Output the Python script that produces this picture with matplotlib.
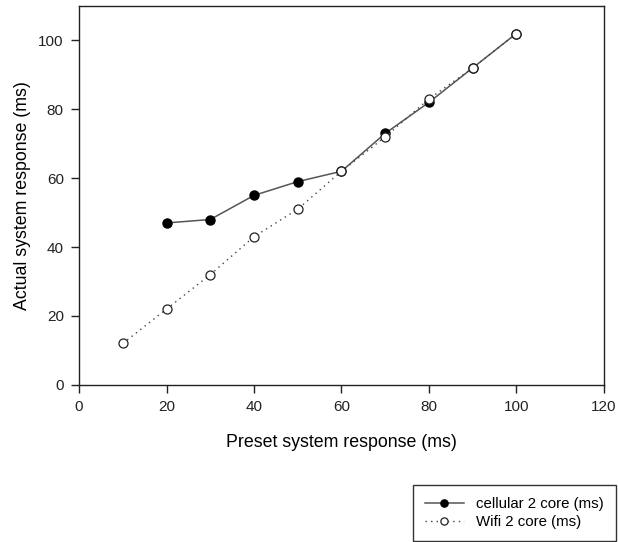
import matplotlib

matplotlib.use("Agg")
import matplotlib.pyplot as plt  # noqa: E402

plt.rcParams["font.family"] = ["Liberation Sans", "DejaVu Sans"]

# data
cell_x = [20, 30, 40, 50, 60, 70, 80, 90, 100]
cell_y = [47, 48, 55, 59, 62, 73, 82, 92, 102]
wifi_x = [10, 20, 30, 40, 50, 60, 70, 80, 90, 100]
wifi_y = [12, 22, 32, 43, 51, 62, 72, 83, 92, 102]

fig = plt.figure(figsize=(6.18, 5.42), dpi=100)
ax = fig.add_axes([0.128, 0.29, 0.849, 0.699])

ax.plot(cell_x, cell_y, color="#555555", lw=1.1, ls="-", marker="o",
        ms=6.5, mfc="black", mec="black", label="cellular 2 core (ms)", zorder=2)
ax.plot(wifi_x, wifi_y, color="#444444", lw=1.0, ls=(0, (1, 3)), marker="o",
        ms=6.5, mfc="white", mec="#222222", mew=0.9, label="Wifi 2 core (ms)", zorder=3)

ax.set_xlim(0, 120)
ax.set_ylim(0, 110)
ax.set_xticks(range(0, 121, 20))
ax.set_yticks(range(0, 101, 20))
ax.tick_params(direction="out", length=6, width=1, labelsize=11, pad=5,
               top=False, right=False, colors="#222222")
for s in ax.spines.values():
    s.set_linewidth(1.0)
    s.set_color("#222222")

ax.set_xlabel("Preset system response (ms)", fontsize=12.8, labelpad=14)
ax.set_ylabel("Actual system response (ms)", fontsize=12.8, labelpad=5)

leg = fig.legend(loc="upper left", bbox_to_anchor=(0.668, 0.105),
                 fontsize=10.8, frameon=True, fancybox=False, edgecolor="black",
                 handlelength=2.6, markerscale=0.8, borderpad=0.8,
                 labelspacing=0.25, borderaxespad=0)
leg.get_frame().set_linewidth(1.0)

fig.savefig("out.png", dpi=100)
